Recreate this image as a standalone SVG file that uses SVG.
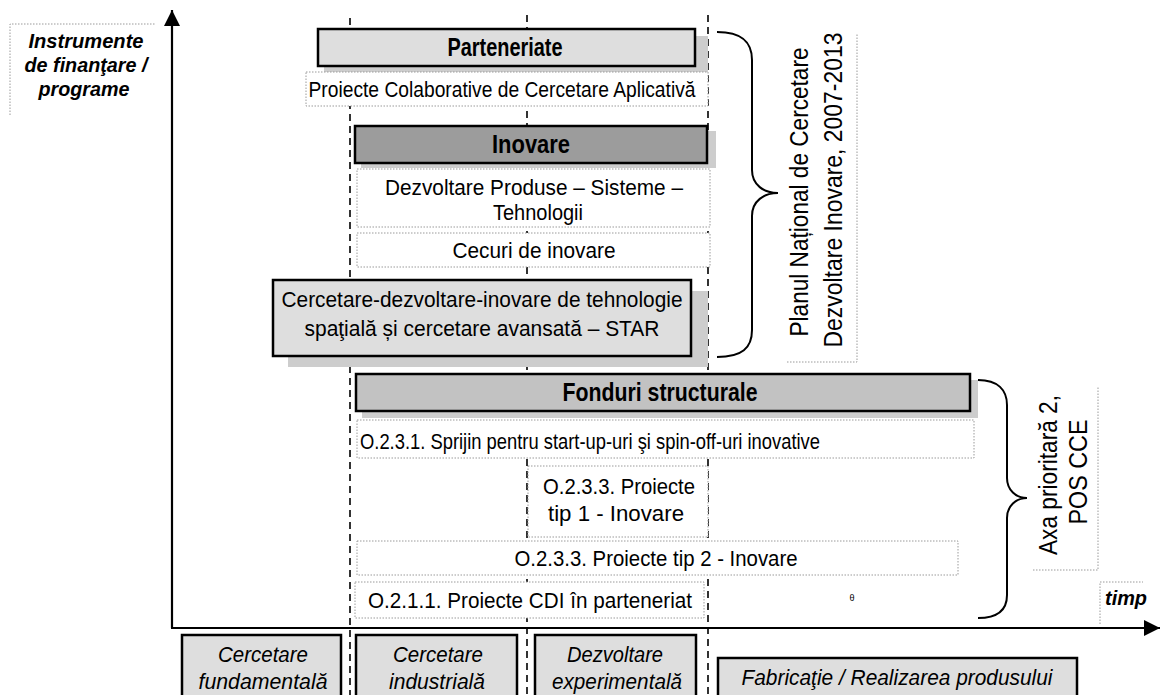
<svg xmlns="http://www.w3.org/2000/svg" width="1160" height="695" viewBox="0 0 1160 695">
<defs>
<style>
text{font-family:"Liberation Sans",Arial,sans-serif;fill:#000}
.r{font-size:22px}
.b{font-size:25px;font-weight:bold}
.bi{font-size:21px;font-weight:bold;font-style:italic}
.i{font-size:22px;font-style:italic}
.v{font-size:26px}
.box{stroke:#000;stroke-width:2.5}
.lt{fill:#dedede}
.md{fill:#c2c2c2}
.dk{fill:#9c9c9c}
.sh{fill:#cdcdcd}
.tb{fill:#fff;stroke:#9a9a9a;stroke-width:1;stroke-dasharray:1.5 1.5}
.dot{fill:none;stroke:#9a9a9a;stroke-width:1;stroke-dasharray:1.5 1.5}
.dash{fill:none;stroke:#000;stroke-width:1.6;stroke-dasharray:7 5}
.ax{stroke:#000;stroke-width:2.2;fill:none}
.br{fill:none;stroke:#000;stroke-width:2}
</style>
<marker id="ah" markerUnits="userSpaceOnUse" markerWidth="18" markerHeight="16" refX="16" refY="8" orient="auto">
<path d="M0,0 L16,8 L0,16 Z" fill="#000"/>
</marker>
</defs>
<rect width="1160" height="695" fill="#fff"/>

<g id="connectors">
<line class="dash" x1="350" y1="18" x2="350" y2="695"/>
<line class="dash" x1="527" y1="15" x2="527" y2="695"/>
<line class="dash" x1="708" y1="15" x2="708" y2="695"/>
<line class="ax" x1="172" y1="628" x2="172" y2="10" marker-end="url(#ah)"/>
<line class="ax" x1="171" y1="628" x2="1160" y2="628" marker-end="url(#ah)"/>
<path class="br" d="M717,32 C742,32 752,42 752,60 L752,170 C752,185 764,193 778,193 C764,193 752,201 752,216 L752,330 C752,348 742,357 717,357"/>
<path class="br" d="M978,380 C998,380 1007,390 1007,405 L1007,478 C1007,490 1016,498 1027,498 C1016,498 1007,506 1007,518 L1007,595 C1007,610 998,618 978,618"/>
</g>

<g id="n-label">
<path class="dot" d="M10,115 L10,24 L155,24"/>
<text class="bi" x="86" y="48" text-anchor="middle" textLength="115" lengthAdjust="spacingAndGlyphs">Instrumente</text>
<text class="bi" x="86" y="72" text-anchor="middle" textLength="123" lengthAdjust="spacingAndGlyphs">de finanţare /</text>
<text class="bi" x="84" y="96" text-anchor="middle" textLength="91" lengthAdjust="spacingAndGlyphs">programe</text>
</g>

<g id="n-parteneriate">
<rect class="sh" x="324" y="36" width="384" height="36"/>
<rect class="box lt" x="318" y="29" width="377" height="37"/>
<text class="b" x="505" y="56" text-anchor="middle" textLength="115" lengthAdjust="spacingAndGlyphs">Parteneriate</text>
</g>

<g id="n-proiecte-colab">
<rect class="tb" x="306" y="72" width="402" height="34"/>
<text class="r" x="502" y="97" text-anchor="middle" textLength="387" lengthAdjust="spacingAndGlyphs">Proiecte Colaborative de Cercetare Aplicativă</text>
</g>

<g id="n-inovare">
<rect class="sh" x="361" y="131" width="355" height="37"/>
<rect class="box dk" x="355" y="126" width="352" height="37"/>
<text class="b" x="531" y="153" text-anchor="middle" textLength="78" lengthAdjust="spacingAndGlyphs">Inovare</text>
</g>

<g id="n-dezvoltare">
<rect class="tb" x="357" y="169" width="353" height="58"/>
<text class="r" x="534" y="195" text-anchor="middle" textLength="298" lengthAdjust="spacingAndGlyphs">Dezvoltare Produse – Sisteme –</text>
<text class="r" x="538" y="220" text-anchor="middle" textLength="90" lengthAdjust="spacingAndGlyphs">Tehnologii</text>
</g>

<g id="n-cecuri">
<rect class="tb" x="357" y="233" width="353" height="34"/>
<text class="r" x="534" y="258" text-anchor="middle" textLength="163" lengthAdjust="spacingAndGlyphs">Cecuri de inovare</text>
</g>

<g id="n-star">
<rect class="sh" x="288" y="291" width="420" height="76"/>
<rect class="box lt" x="273" y="280" width="418" height="76"/>
<text class="r" x="482" y="307" text-anchor="middle" textLength="401" lengthAdjust="spacingAndGlyphs">Cercetare-dezvoltare-inovare de tehnologie</text>
<text class="r" x="482" y="336" text-anchor="middle" textLength="355" lengthAdjust="spacingAndGlyphs">spaţială și cercetare avansată – STAR</text>
</g>

<g id="n-plan">
<path class="dot" d="M787,362 L857,362 L857,33"/>
<text class="v" transform="translate(808,192) rotate(-90)" text-anchor="middle" textLength="289" lengthAdjust="spacingAndGlyphs">Planul Național de Cercetare</text>
<text class="v" transform="translate(842,190) rotate(-90)" text-anchor="middle" textLength="315" lengthAdjust="spacingAndGlyphs">Dezvoltare Inovare, 2007-2013</text>
</g>

<g id="n-fonduri">
<rect class="sh" x="362" y="380" width="616" height="38"/>
<rect class="box md" x="356" y="374" width="614" height="37"/>
<text class="b" x="660" y="401" text-anchor="middle" textLength="195" lengthAdjust="spacingAndGlyphs">Fonduri structurale</text>
</g>

<g id="n-o231">
<rect class="tb" x="357" y="420" width="617" height="38"/>
<text class="r" x="360" y="449" textLength="460" lengthAdjust="spacingAndGlyphs">O.2.3.1. Sprijin pentru start-up-uri şi spin-off-uri inovative</text>
</g>

<g id="n-o233-1">
<rect class="tb" x="528" y="466" width="180" height="71"/>
<text class="r" x="619" y="494" text-anchor="middle" textLength="152" lengthAdjust="spacingAndGlyphs">O.2.3.3. Proiecte</text>
<text class="r" x="616" y="521" text-anchor="middle" textLength="136" lengthAdjust="spacingAndGlyphs">tip 1 - Inovare</text>
</g>

<g id="n-o233-2">
<rect class="tb" x="357" y="541" width="601" height="34"/>
<text class="r" x="656" y="566" text-anchor="middle" textLength="283" lengthAdjust="spacingAndGlyphs">O.2.3.3. Proiecte tip 2 - Inovare</text>
</g>

<g id="n-o211">
<rect class="tb" x="355" y="582" width="349" height="36"/>
<text class="r" x="368" y="608" textLength="324" lengthAdjust="spacingAndGlyphs">O.2.1.1. Proiecte  CDI în parteneriat</text>
<text x="852" y="601" font-size="9" text-anchor="middle">θ</text>
</g>

<g id="n-axa">
<path class="dot" d="M1033,570 L1098,570 L1098,387"/>
<text class="v" transform="translate(1057,475) rotate(-90)" text-anchor="middle" textLength="160" lengthAdjust="spacingAndGlyphs">Axa prioritară 2,</text>
<text class="v" transform="translate(1087,472) rotate(-90)" text-anchor="middle" textLength="105" lengthAdjust="spacingAndGlyphs">POS CCE</text>
</g>

<g id="n-timp">
<path class="dot" d="M1100,624 L1100,582 L1143,582"/>
<text class="bi" x="1126" y="605" text-anchor="middle" textLength="42" lengthAdjust="spacingAndGlyphs">timp</text>
</g>

<g id="n-fundamentala">
<rect class="box lt" x="182" y="635" width="159" height="70"/>
<text class="i" x="263" y="662" text-anchor="middle" textLength="90" lengthAdjust="spacingAndGlyphs">Cercetare</text>
<text class="i" x="263" y="689" text-anchor="middle" textLength="129" lengthAdjust="spacingAndGlyphs">fundamentală</text>
</g>

<g id="n-industriala">
<rect class="box lt" x="356" y="635" width="161" height="70"/>
<text class="i" x="438" y="662" text-anchor="middle" textLength="90" lengthAdjust="spacingAndGlyphs">Cercetare</text>
<text class="i" x="437" y="689" text-anchor="middle" textLength="96" lengthAdjust="spacingAndGlyphs">industrială</text>
</g>

<g id="n-experimentala">
<rect class="box lt" x="535" y="635" width="161" height="70"/>
<text class="i" x="615" y="662" text-anchor="middle" textLength="96" lengthAdjust="spacingAndGlyphs">Dezvoltare</text>
<text class="i" x="617" y="689" text-anchor="middle" textLength="130" lengthAdjust="spacingAndGlyphs">experimentală</text>
</g>

<g id="n-fabricatie">
<rect class="box lt" x="718" y="658" width="359" height="50"/>
<text class="i" x="897" y="685" text-anchor="middle" textLength="311" lengthAdjust="spacingAndGlyphs">Fabricaţie / Realizarea produsului</text>
</g>
</svg>
